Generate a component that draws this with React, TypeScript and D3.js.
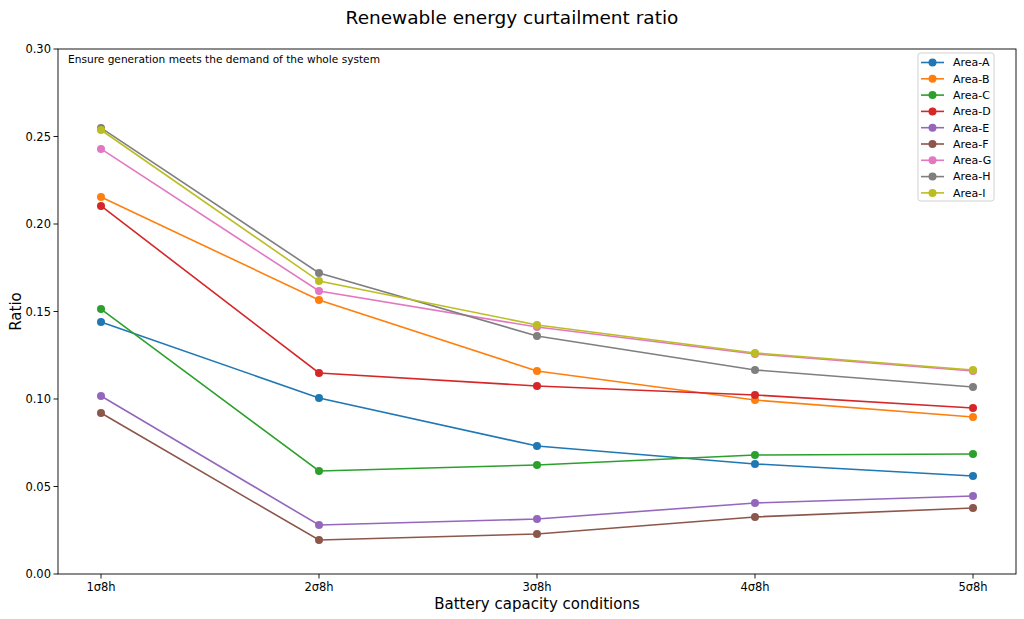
import React from "react";
import * as d3 from "d3";

const categories = ["1σ8h", "2σ8h", "3σ8h", "4σ8h", "5σ8h"];
const seriesNames = ["Area-A", "Area-B", "Area-C", "Area-D", "Area-E", "Area-F", "Area-G", "Area-H", "Area-I"];
const areaA = [0.144, 0.1006, 0.0731, 0.0629, 0.056];
const areaB = [0.2154, 0.1566, 0.116, 0.0994, 0.0897];
const areaC = [0.1514, 0.0589, 0.0623, 0.068, 0.0686];
const areaD = [0.2103, 0.1149, 0.1074, 0.1023, 0.0949];
const areaE = [0.1017, 0.028, 0.0314, 0.0406, 0.0446];
const areaF = [0.092, 0.0194, 0.0229, 0.0326, 0.0377];
const areaG = [0.2429, 0.1617, 0.1411, 0.1257, 0.116];
const areaH = [0.2549, 0.172, 0.136, 0.1166, 0.1069];
const areaI = [0.2537, 0.1674, 0.1423, 0.1263, 0.1166];
const yTicks = [0, 0.05, 0.1, 0.15, 0.2, 0.25, 0.3];
const colors = ["#1f77b4", "#ff7f0e", "#2ca02c", "#d62728", "#9467bd", "#8c564b", "#e377c2", "#7f7f7f", "#bcbd22"];

const seriesValues = [areaA, areaB, areaC, areaD, areaE, areaF, areaG, areaH, areaI];

export default function App() {
  const W = 1024, H = 619;
  const left = 58, right = 1016, top = 49, bottom = 574;
  const x = d3.scalePoint<string>().domain(categories).range([101, 973]);
  const y = d3.scaleLinear().domain([0, 0.3]).range([bottom, top]);
  const line = d3.line<number>().x((_, i) => x(categories[i])!).y((d) => y(d));
  const font = "DejaVu Sans, sans-serif";
  const legX = 918, legY = 53, legRow = 16.3;
  return (
    <svg width={W} height={H} style={{ position: "absolute", left: 0, top: 0, background: "#fff" }} fontFamily={font}>
      <rect x={0} y={0} width={W} height={H} fill="#fff" />
      <text x={W / 2} y={23.5} textAnchor="middle" fontSize={18.5} fill="#000">Renewable energy curtailment ratio</text>
      {seriesValues.map((vals, si) => (
        <g key={si}>
          <path d={line(vals)!} fill="none" stroke={colors[si]} strokeWidth={1.6} />
          {vals.map((v, i) => (
            <circle key={i} cx={x(categories[i])!} cy={y(v)} r={4} fill={colors[si]} />
          ))}
        </g>
      ))}
      <rect x={left} y={top} width={right - left} height={bottom - top} fill="none" stroke="#000" strokeWidth={0.9} />
      {yTicks.map((t) => (
        <g key={t}>
          <line x1={left - 4.5} x2={left} y1={y(t)} y2={y(t)} stroke="#000" strokeWidth={0.9} />
          <text x={left - 7} y={y(t)} dy="0.35em" textAnchor="end" fontSize={11.5} fill="#000">{t.toFixed(2)}</text>
        </g>
      ))}
      {categories.map((c) => (
        <g key={c}>
          <line x1={x(c)!} x2={x(c)!} y1={bottom} y2={bottom + 4.5} stroke="#000" strokeWidth={0.9} />
          <text x={x(c)!} y={bottom + 17} textAnchor="middle" fontSize={11.5} fill="#000">{c}</text>
        </g>
      ))}
      <text x={(left + right) / 2} y={609} textAnchor="middle" fontSize={15} fill="#000">Battery capacity conditions</text>
      <text transform={`translate(21,${(top + bottom) / 2}) rotate(-90)`} textAnchor="middle" fontSize={15} fill="#000">Ratio</text>
      <text x={68} y={63} fontSize={10.6} fill="#000">Ensure generation meets the demand of the whole system</text>
      <rect x={legX} y={legY} width={76} height={148} rx={2.5} fill="#fff" fillOpacity={0.8} stroke="#cccccc" strokeWidth={0.9} />
      {seriesNames.map((n, i) => {
        const ly = legY + 9.5 + i * legRow;
        return (
          <g key={n}>
            <line x1={legX + 3} x2={legX + 26} y1={ly} y2={ly} stroke={colors[i]} strokeWidth={1.6} />
            <circle cx={legX + 14.5} cy={ly} r={4} fill={colors[i]} />
            <text x={legX + 35} y={ly} dy="0.35em" fontSize={11} fill="#000">{n}</text>
          </g>
        );
      })}
    </svg>
  );
}
